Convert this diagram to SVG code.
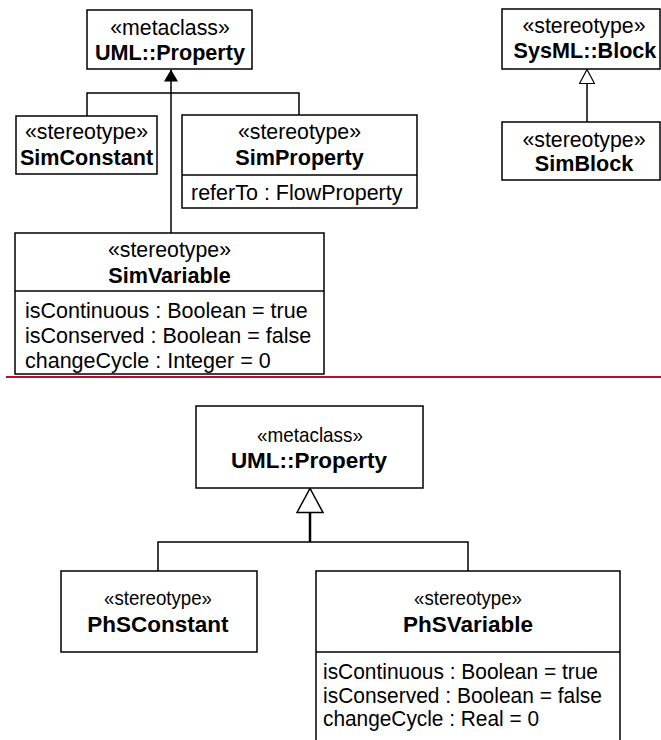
<svg xmlns="http://www.w3.org/2000/svg" width="661" height="740" viewBox="0 0 661 740">
<style>
  .box { fill: #ffffff; stroke: #000000; stroke-width: 1.5; }
  .ln { fill: none; stroke: #000000; stroke-width: 1.5; }
  .st { font-family: "Liberation Sans", Arial, sans-serif; font-size: 21.3px; fill: #000; text-anchor: middle; }
  .nm { font-family: "Liberation Sans", Arial, sans-serif; font-size: 21.6px; font-weight: bold; fill: #000; text-anchor: middle; }
  .at { font-family: "Liberation Sans", Arial, sans-serif; font-size: 21.5px; fill: #000; }
  .st2 { font-family: "Liberation Sans", Arial, sans-serif; font-size: 21px; fill: #000; text-anchor: middle; }
  .nm2 { font-family: "Liberation Sans", Arial, sans-serif; font-size: 22.5px; font-weight: bold; fill: #000; text-anchor: middle; }
  .at2 { font-family: "Liberation Sans", Arial, sans-serif; font-size: 22px; fill: #000; }
</style>
<defs>
  <marker id="filled" viewBox="0 0 12 14" refX="12" refY="7" markerWidth="12" markerHeight="14" markerUnits="userSpaceOnUse" orient="auto">
    <path d="M0,0 L12,7 L0,14 Z" fill="#000"/>
  </marker>
  <marker id="hollow" viewBox="0 0 15 16" refX="14.5" refY="8" markerWidth="15" markerHeight="16" markerUnits="userSpaceOnUse" orient="auto">
    <path d="M0.5,0.5 L14.5,8 L0.5,15.5 Z" fill="#fff" stroke="#000" stroke-width="1.2"/>
  </marker>
  <marker id="hollowBig" viewBox="0 0 26 28" refX="25" refY="14" markerWidth="26" markerHeight="28" markerUnits="userSpaceOnUse" orient="auto">
    <path d="M1,1 L25,14 L1,27 Z" fill="#fff" stroke="#000" stroke-width="1.5"/>
  </marker>
</defs>

<g id="connectors">
  <!-- top-left generalization tree -->
  <polyline class="ln" points="87,116 87,93 299,93 299,115"/>
  <line class="ln" x1="171" y1="233" x2="171" y2="69.5" marker-end="url(#filled)"/>
  <!-- SimBlock -> SysML::Block -->
  <line class="ln" x1="587" y1="122" x2="587" y2="69.5" marker-end="url(#hollow)"/>
  <!-- bottom tree -->
  <polyline class="ln" points="158,571 158,542 468,542 468,571"/>
  <line x1="310" y1="542" x2="310" y2="488.5" stroke="#000" stroke-width="2.5" marker-end="url(#hollowBig)"/>
</g>

<g id="separator">
  <line x1="6" y1="377" x2="661" y2="377" stroke="#BE0A2D" stroke-width="2"/>
</g>

<g id="umlProperty1">
  <rect class="box" x="87" y="10" width="165" height="59"/>
  <text class="st" x="170" y="35">«metaclass»</text>
  <text class="nm" x="170" y="60">UML::Property</text>
</g>

<g id="simConstant">
  <rect class="box" x="16" y="116" width="141" height="58"/>
  <text class="st" x="86.5" y="139">«stereotype»</text>
  <text class="nm" x="86.5" y="165">SimConstant</text>
</g>

<g id="simProperty">
  <rect class="box" x="182" y="115" width="235" height="93"/>
  <line class="ln" x1="182" y1="175" x2="417" y2="175"/>
  <text class="st" x="299.5" y="139">«stereotype»</text>
  <text class="nm" x="299.5" y="165">SimProperty</text>
  <text class="at" x="191" y="200">referTo : FlowProperty</text>
</g>

<g id="simVariable">
  <rect class="box" x="15" y="233" width="309" height="141"/>
  <line class="ln" x1="15" y1="291" x2="324" y2="291"/>
  <text class="st" x="169.5" y="257">«stereotype»</text>
  <text class="nm" x="169.5" y="283">SimVariable</text>
  <text class="at" x="25" y="317.5">isContinuous : Boolean = true</text>
  <text class="at" x="25" y="342.5">isConserved : Boolean = false</text>
  <text class="at" x="25" y="367.5">changeCycle : Integer = 0</text>
</g>

<g id="sysmlBlock">
  <rect class="box" x="502" y="9" width="158" height="60"/>
  <text class="st" x="584" y="33">«stereotype»</text>
  <text class="nm" x="585" y="58">SysML::Block</text>
</g>

<g id="simBlock">
  <rect class="box" x="502" y="122" width="158" height="58"/>
  <text class="st" x="584" y="147">«stereotype»</text>
  <text class="nm" x="584" y="171">SimBlock</text>
</g>

<g id="umlProperty2">
  <rect class="box" x="196" y="406" width="227" height="82"/>
  <text class="st2" x="310" y="442" textLength="106" lengthAdjust="spacingAndGlyphs">«metaclass»</text>
  <text class="nm2" x="309" y="468">UML::Property</text>
</g>

<g id="phsConstant">
  <rect class="box" x="61" y="571" width="196" height="81"/>
  <text class="st2" x="158" y="605" textLength="108" lengthAdjust="spacingAndGlyphs">«stereotype»</text>
  <text class="nm2" x="158" y="632">PhSConstant</text>
</g>

<g id="phsVariable">
  <rect class="box" x="316" y="571" width="304" height="180"/>
  <line class="ln" x1="316" y1="652" x2="620" y2="652"/>
  <text class="st2" x="468" y="605" textLength="108" lengthAdjust="spacingAndGlyphs">«stereotype»</text>
  <text class="nm2" x="468" y="632">PhSVariable</text>
  <text class="at2" x="323" y="679" textLength="275" lengthAdjust="spacingAndGlyphs">isContinuous : Boolean = true</text>
  <text class="at2" x="323" y="703" textLength="279" lengthAdjust="spacingAndGlyphs">isConserved : Boolean = false</text>
  <text class="at2" x="323" y="726" textLength="216" lengthAdjust="spacingAndGlyphs">changeCycle : Real = 0</text>
</g>
</svg>
